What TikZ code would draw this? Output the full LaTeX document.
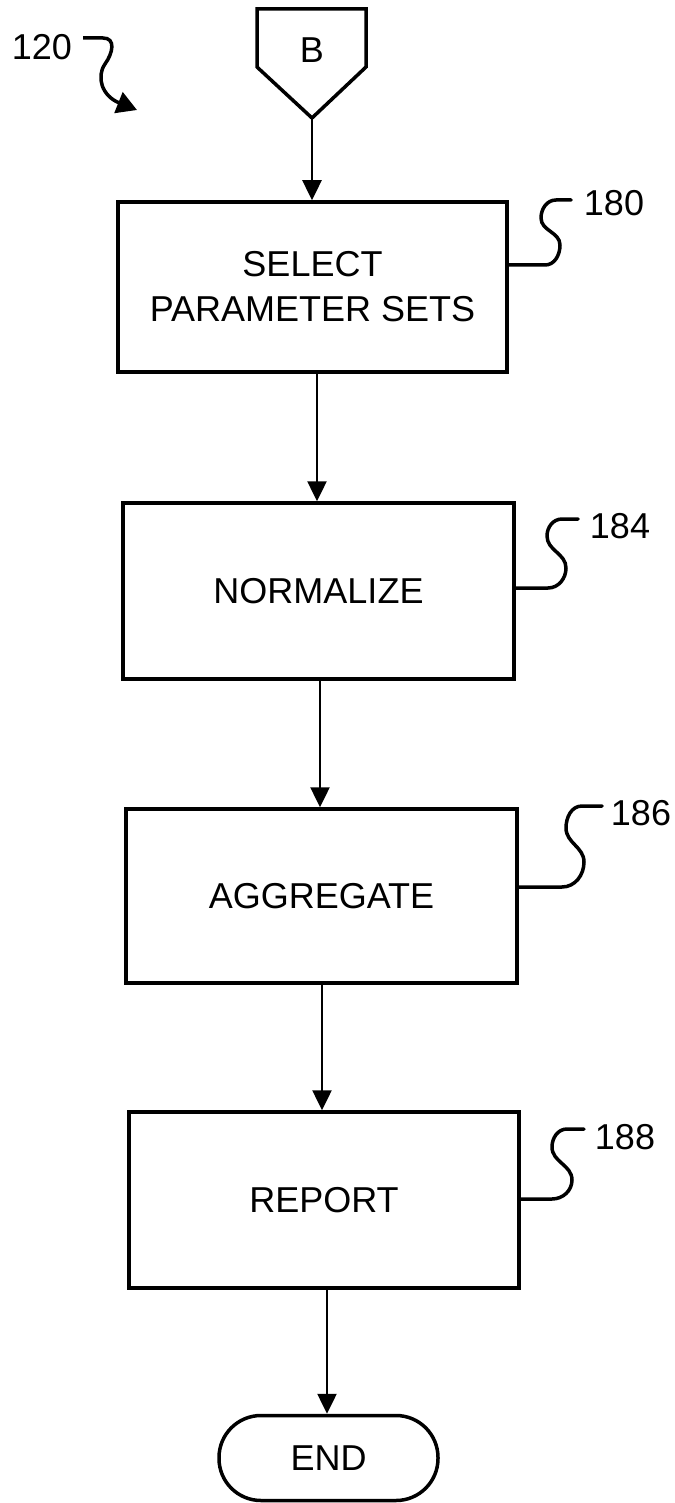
\documentclass[tikz,border=0pt]{standalone}
\usepackage{fontspec}
\setmainfont{Liberation Sans}
\usetikzlibrary{arrows.meta}
\begin{document}
\begin{tikzpicture}[x=1pt,y=1pt,
  boxtxt/.style={font=\fontsize{36}{45}\selectfont},
  stepbox/.style={draw, line width=3.5pt, rectangle, inner sep=0pt, align=center, boxtxt},
  termbox/.style={draw, line width=3.5pt, rectangle, rounded corners=42pt, inner sep=0pt, boxtxt},
  reflabel/.style={font=\fontsize{36}{40}\selectfont, inner sep=0pt},
  arr/.style={line width=2.5pt, -{Triangle[length=20pt,width=19pt]}},
  squig/.style={line width=3.5pt, line cap=round, line join=round}
]
\useasboundingbox (0,0) rectangle (674,-1503);

% connector B
\draw[line width=3.5pt, line join=miter] (257,-9) -- (366,-9) -- (366,-67) -- (312,-118) -- (257,-67) -- cycle;
\node[boxtxt, inner sep=0pt] (B) at (312,-50) {B};
\coordinate (Btip) at (312,-118);

% boxes
\node[stepbox, minimum width=389pt, minimum height=170pt] (b180) at (312.5,-287) {SELECT\\PARAMETER SETS};
\node[stepbox, minimum width=391pt, minimum height=176pt] (b184) at (318.5,-591) {NORMALIZE};
\node[stepbox, minimum width=391pt, minimum height=174pt] (b186) at (321.5,-896) {AGGREGATE};
\node[stepbox, minimum width=390pt, minimum height=176pt] (b188) at (324,-1200) {REPORT};
\node[termbox, minimum width=219pt, minimum height=85pt] (end) at (328.5,-1458) {END};

% x positions of the flow arrows
\coordinate (xa) at (312,0);
\coordinate (xb) at (317,0);
\coordinate (xc) at (320,0);
\coordinate (xd) at (322,0);
\coordinate (xe) at (327,0);

\draw[arr] (Btip) -- (b180.north -| xa);
\draw[arr] (b180.south -| xb) -- (b184.north -| xb);
\draw[arr] (b184.south -| xc) -- (b186.north -| xc);
\draw[arr] (b186.south -| xd) -- (b188.north -| xd);
\draw[arr] (b188.south -| xe) -- (end.north -| xe);

% reference labels
\node[reflabel] (l120) at (42,-47) {120};
\node[reflabel] (l180) at (614,-203) {180};
\node[reflabel] (l184) at (620,-526) {184};
\node[reflabel] (l186) at (641,-813) {186};
\node[reflabel] (l188) at (625,-1137) {188};

% leader lines
\coordinate (e180) at (571,-200);
\coordinate (e184) at (578,-519);
\coordinate (e186) at (602,-806);
\coordinate (e188) at (584,-1129);
\draw[squig] ([yshift=22pt]b180.east) -- (545,-265) to[out=0,in=-90] (560,-245) to[out=90,in=-90] (541,-218) to[out=90,in=180] (556,-200) -- (e180);
\draw[squig] ([yshift=3pt]b184.east) -- (548,-588) to[out=0,in=-90] (566,-568) to[out=90,in=-90] (547,-536) to[out=90,in=180] (562,-519) -- (e184);
\draw[squig] ([yshift=9pt]b186.east) -- (562,-887) to[out=0,in=-90] (584,-862) to[out=90,in=-90] (566,-828) to[out=90,in=180] (582,-806) -- (e186);
\draw[squig] ([yshift=1pt]b188.east) -- (552,-1199) to[out=0,in=-90] (572,-1180) to[out=90,in=-90] (552,-1147) to[out=90,in=180] (567,-1129) -- (e188);

% 120 arrow
\coordinate (s120) at (83,-38);
\coordinate (t120) at (137,-110);
\draw[line width=3.5pt, -{Triangle[length=20pt,width=22pt]}] (s120) -- (103,-38) .. controls (116,-38) and (113,-53) .. (105,-64) .. controls (96,-77) and (102,-96) .. (t120);
\end{tikzpicture}
\end{document}
